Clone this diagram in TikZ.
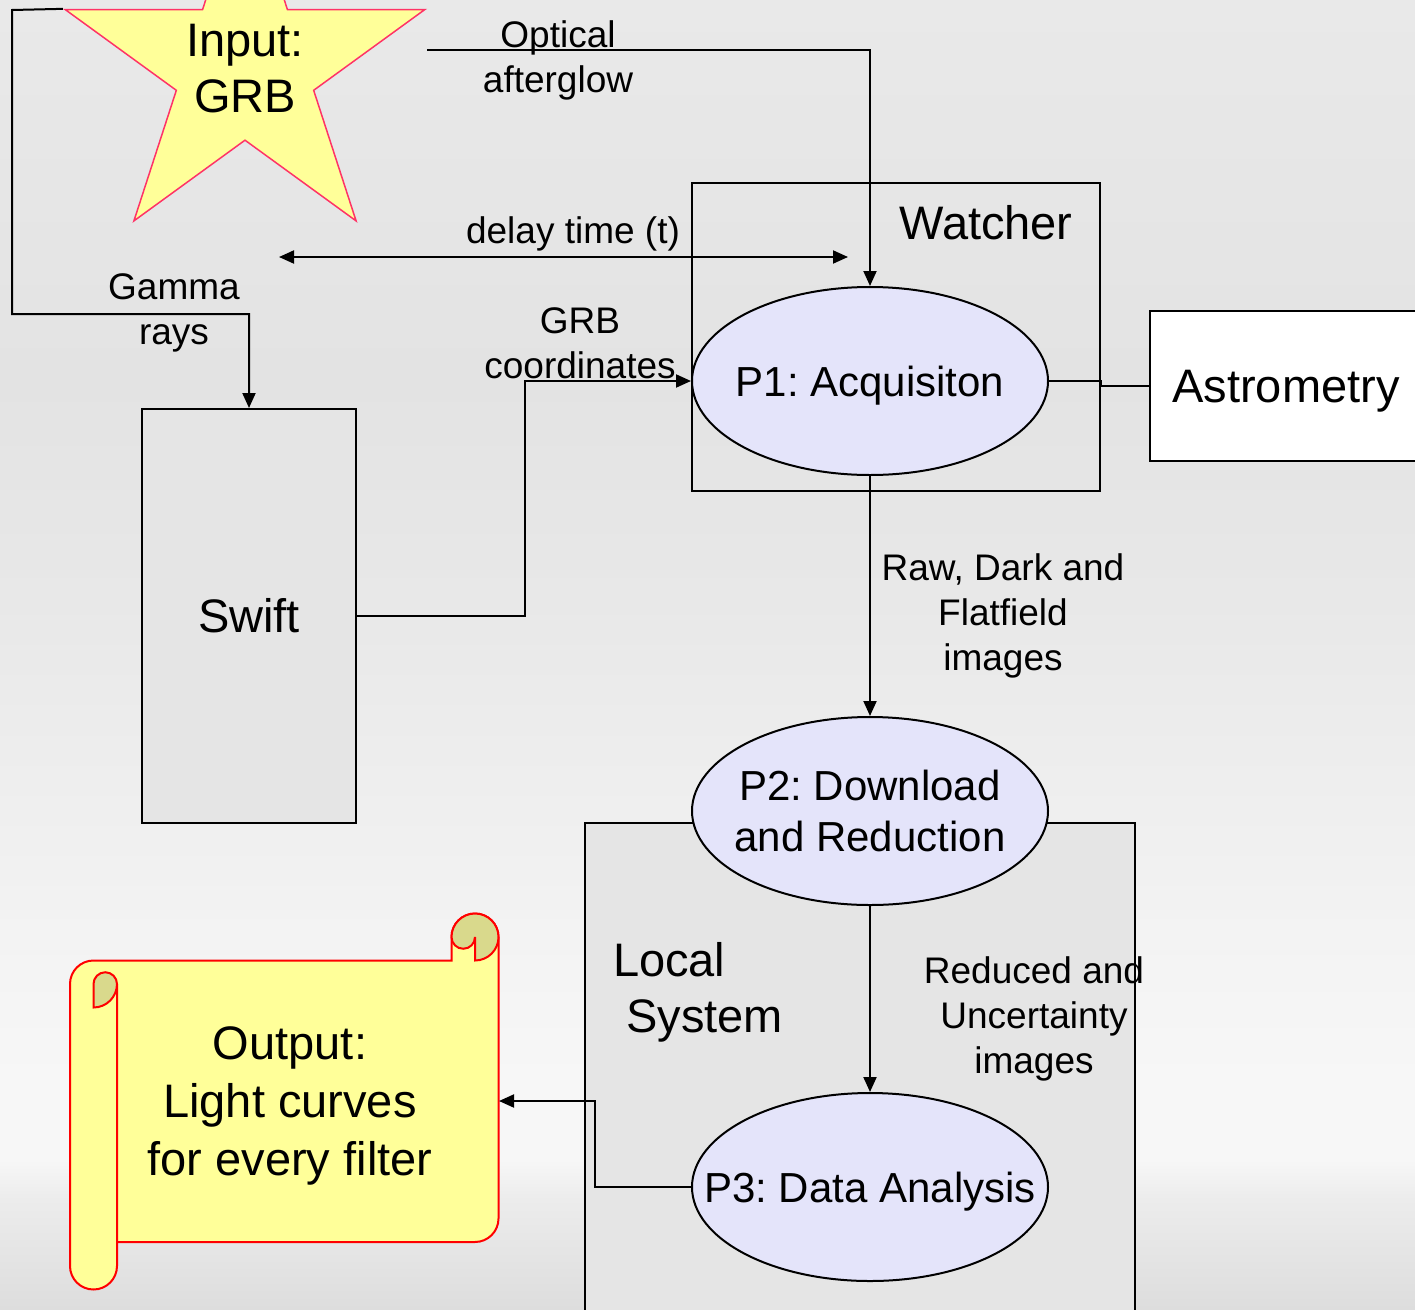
\documentclass[tikz,border=0pt]{standalone}
\usepackage{fontspec}
\setmainfont{Liberation Sans}
\usepackage{tikz}
\usetikzlibrary{arrows.meta,shapes.geometric,positioning}
\frenchspacing

\definecolor{starfill}{RGB}{255,255,153}
\definecolor{starline}{RGB}{255,51,102}
\definecolor{scrolldark}{RGB}{217,217,140}
\definecolor{procfill}{RGB}{228,228,250}
\definecolor{boxgray}{RGB}{229,229,229}
\definecolor{bgT}{RGB}{233,233,233}
\definecolor{bgM}{RGB}{227,227,227}
\definecolor{bgA}{RGB}{232,232,232}
\definecolor{bgB}{RGB}{242,242,242}
\definecolor{bgC}{RGB}{247,247,247}
\definecolor{bgD}{RGB}{236,236,236}
\definecolor{bgE}{RGB}{221,221,221}
\pgfdeclareverticalshading{slidebg}{100bp}{%
	color(0bp)=(bgE); color(25bp)=(bgE); color(29.2bp)=(bgD); color(30.7bp)=(bgC);
	color(33.7bp)=(bgC); color(40.6bp)=(bgB); color(52.1bp)=(bgA); color(60.5bp)=(bgM);
	color(75bp)=(bgT); color(100bp)=(bgT)}

\begin{document}
\begin{tikzpicture}[x=1pt,y=-1pt,line width=2pt,
	>={Triangle[length=15pt,width=13pt]},
	process/.style={ellipse,draw,fill=procfill,minimum width=356pt,minimum height=188pt,
		inner xsep=-50pt,inner ysep=0pt,text depth=0pt,align=center,font=\fontsize{42}{51}\selectfont},
	sysbox/.style={rectangle,draw,inner sep=0pt,anchor=north west,font=\fontsize{47}{56}\selectfont},
	biglabel/.style={inner sep=0pt,align=center,font=\fontsize{47}{56}\selectfont},
	flowlabel/.style={inner sep=0pt,align=center,font=\fontsize{37}{45}\selectfont},
	scrollpaper/.style={fill=starfill,draw=red},
	scrollcurl/.style={fill=scrolldark,draw=red}]
	% Slide background
	\useasboundingbox (0,0) rectangle (1415,1309);
	\clip (0,0) rectangle (1415,1309);
	\shade[shading=slidebg] (0,0) rectangle (1415,1309);

	% System boxes
	\node[sysbox,fill=boxgray,minimum width=550pt,minimum height=510pt] (localsys) at (584,822) {};
	\node[sysbox,minimum width=408pt,minimum height=308pt] (watcher) at (691,182) {};
	\node[sysbox,fill=boxgray,minimum width=214pt,minimum height=414pt] (swift) at (141,408) {Swift};
	\node[sysbox,fill=white,minimum width=272pt,minimum height=150pt,text depth=0pt] (astro) at (1149,310) {Astrometry};
	\node[biglabel] (watchlbl) at (986,223) {Watcher};
	\node[biglabel,align=left,anchor=west] (locallbl) at (612,992) {Local\\\hspace*{.28em}System};

	% Input star
	\node[star,star points=5,star point ratio=2.618,minimum size=378pt,inner sep=0pt,
		draw=starline,fill=starfill,line width=1.5pt] (grb) at (245,68) {};
	\node[biglabel] (grbtxt) at (245,69) {Input:\\GRB};

	% Output scroll
	\path[scrollpaper] (70,984) arc[start angle=180,end angle=90,radius=23.5pt] -- (451.5,960.5) -- (451.5,937)
		arc[start angle=180,end angle=0,radius=23.5pt] -- (498.5,1218.5)
		arc[start angle=0,end angle=-90,radius=23.5pt] -- (70,1242) -- cycle;
	\path[scrollpaper] (70,984) -- (70,1266) arc[start angle=180,end angle=360,radius=23.5pt] -- (117,984);
	\path[scrollcurl] (93.5,984) arc[start angle=180,end angle=0,radius=11.75pt]
		arc[start angle=0,end angle=-90,radius=23.5pt] -- cycle;
	\path[scrollcurl] (451.5,937) arc[start angle=180,end angle=0,radius=23.5pt]
		arc[start angle=0,end angle=-90,radius=23.5pt] -- (475,937)
		arc[start angle=0,end angle=-180,radius=11.75pt] -- cycle;
	\node[biglabel,font=\fontsize{47}{58}\selectfont] (outtxt) at (290,1106) {Output:\\Light curves\\for every filter};

	% Processes
	\node[process] (p1) at (870,381) {P1: Acquisiton};
	\node[process] (p2) at (870,811) {P2: Download\\and Reduction};
	\node[process] (p3) at (870,1187) {P3: Data Analysis};

	% Flow labels
	\node[flowlabel] (optlbl) at (558,60) {Optical\\afterglow};
	\node[flowlabel] (delaylbl) at (573,234) {delay time (t)};
	\node[flowlabel] (gammalbl) at (174,313) {Gamma\\rays};
	\node[flowlabel] (coordlbl) at (580,343) {GRB\\coordinates};
	\node[flowlabel] (rawlbl) at (1003,616) {Raw, Dark and\\Flatfield\\images};
	\node[flowlabel] (redlbl) at (1034,1019) {Reduced and\\Uncertainty\\images};

	% Connectors
	\coordinate (optstart) at (427,50);
	\coordinate (dleft) at (279,257);
	\coordinate (dright) at (848,257);
	\coordinate (scrollin) at (499,1101);
	\draw[->] (grb.outer point 2) -- (12,10) -- (12,314) -| (swift.north);
	\draw[->] (optstart) -| (p1.north);
	\draw[<->] (dleft) -- (dright);
	\draw[->] (swift.east) -- ++(168,0) |- (p1.west);
	\draw (p1.east) -- (watcher.east |- p1.east) |- (astro.west);
	\draw[->] (p1) -- (p2);
	\draw[->] (p2) -- (p3);
	\draw[->] (p3.west) -- ++(-96,0) |- (scrollin);
\end{tikzpicture}
\end{document}
